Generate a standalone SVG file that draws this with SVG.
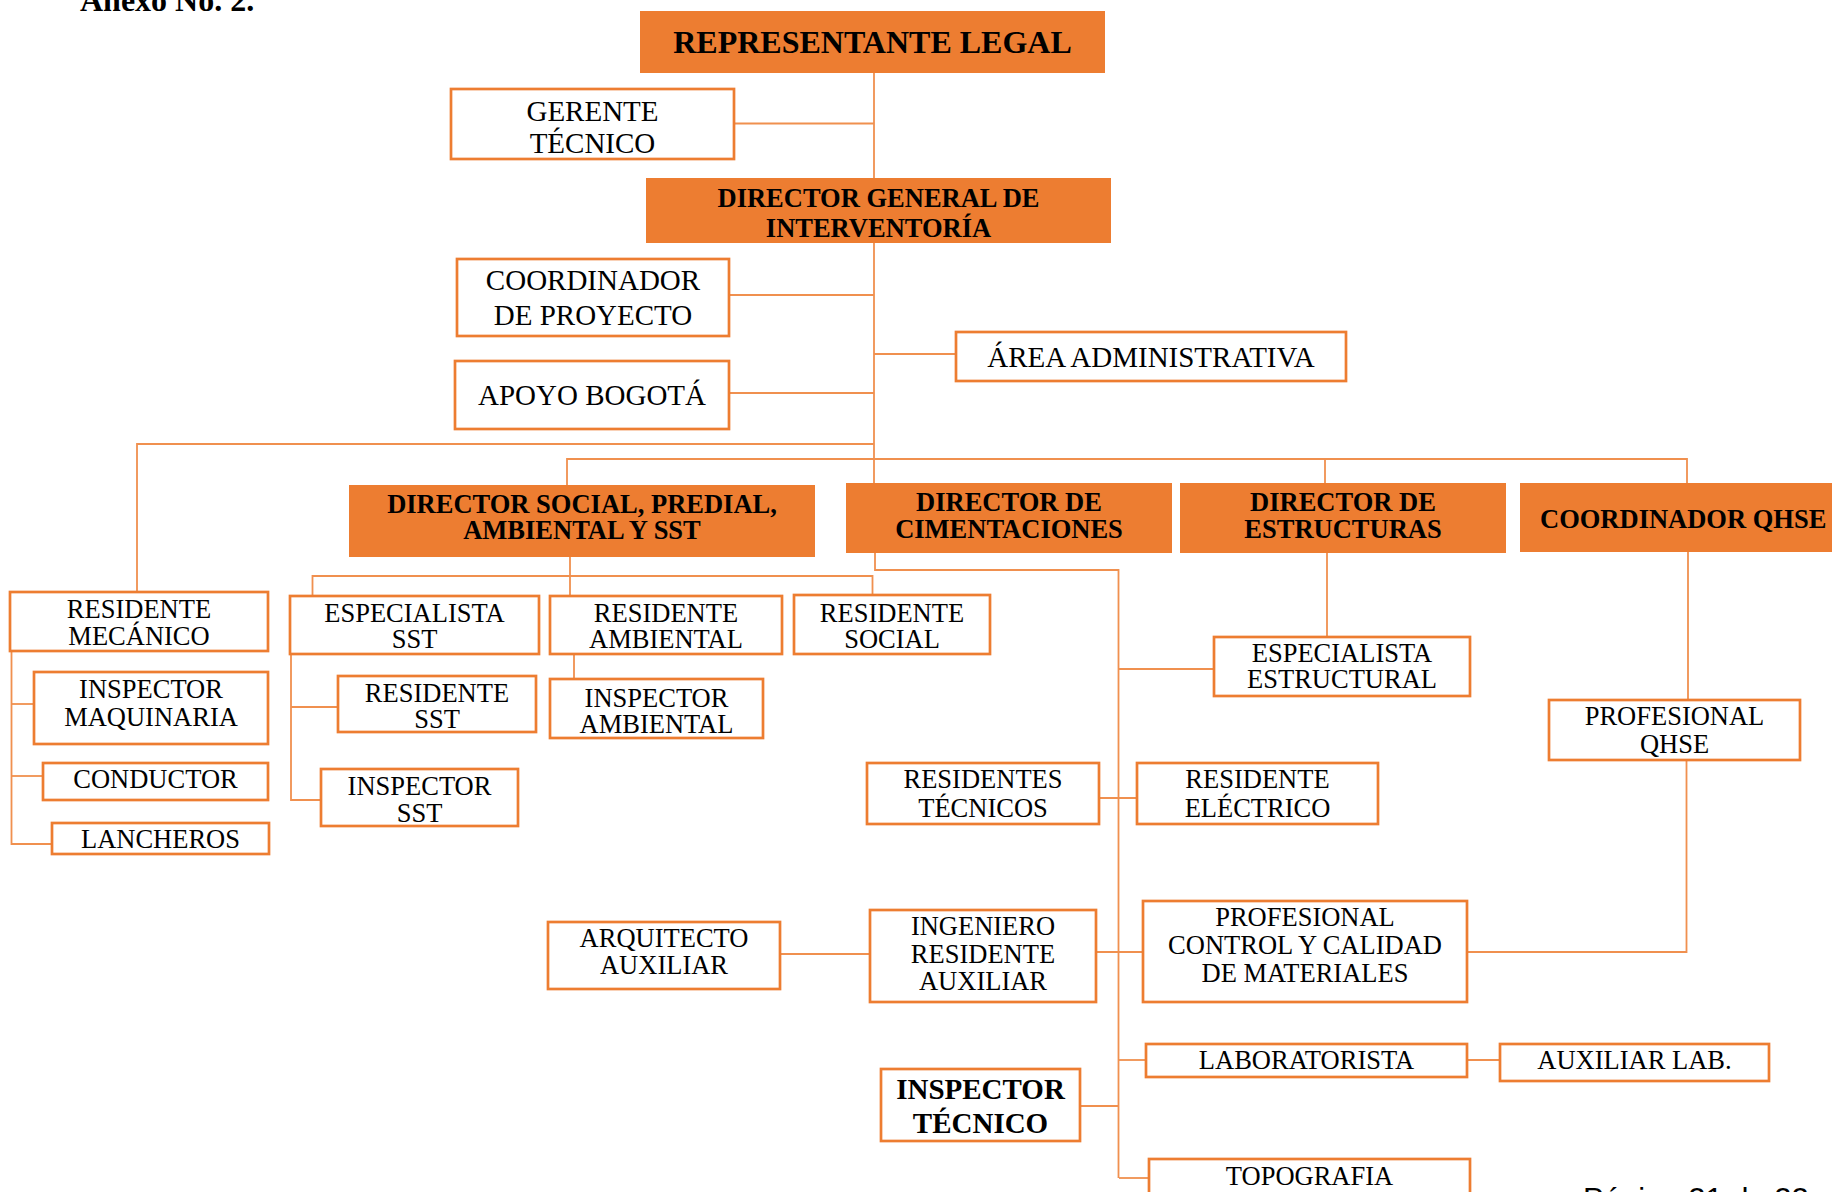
<svg xmlns="http://www.w3.org/2000/svg" width="1832" height="1192" viewBox="0 0 1832 1192">
<style>
.bg{fill:#ffffff}
.f{fill:#ED7D31;stroke:none}
.o{fill:#ffffff;stroke:#ED7D31;stroke-width:2.7}
.c{fill:none;stroke:#F0904F;stroke-width:1.8}
text{font-family:"Liberation Serif","Times New Roman",serif;fill:#000;text-anchor:middle}
.b{font-weight:bold}
.t32{font-size:32px}
.t29{font-size:29px}
.t26{font-size:26.5px}
.pg{font-family:"Liberation Sans",Arial,sans-serif;font-size:31px;text-anchor:start}
</style>
<rect class="bg" x="0" y="0" width="1832" height="1192"/>
<text class="b t32" x="80" y="11" style="text-anchor:start">Anexo No. 2.</text>
<text class="pg" x="1583" y="1210">Página 21 de 22</text>

<g id="connectors">
<path class="c" d="M874 73V483"/>
<path class="c" d="M734 123.5H874"/>
<path class="c" d="M729 295H874"/>
<path class="c" d="M874 354H956"/>
<path class="c" d="M729 393H874"/>
<path class="c" d="M137 592V444H874"/>
<path class="c" d="M567 485V459H1687V483"/>
<path class="c" d="M1325 459V483"/>
<path class="c" d="M570 557V596"/>
<path class="c" d="M312.5 596V576H872.5V595"/>
<path class="c" d="M11.5 651V844H52"/>
<path class="c" d="M11.5 704H34"/>
<path class="c" d="M11.5 776H43"/>
<path class="c" d="M291 654V800H321"/>
<path class="c" d="M291 707H338"/>
<path class="c" d="M574 654V679"/>
<path class="c" d="M875 553V570H1118.5V1178"/>
<path class="c" d="M1118.5 669H1214"/>
<path class="c" d="M1327 553V637"/>
<path class="c" d="M1099 798H1137"/>
<path class="c" d="M1688 552V700"/>
<path class="c" d="M1686.5 760V952H1467"/>
<path class="c" d="M780 954H870"/>
<path class="c" d="M1096 952H1143"/>
<path class="c" d="M1119 1060H1146"/>
<path class="c" d="M1467 1060H1500"/>
<path class="c" d="M1080 1106H1119"/>
<path class="c" d="M1119 1178H1149"/>
</g>

<g id="representante-legal"><rect class="f" x="640" y="11" width="465" height="62"/><text class="b t32" x="872.5" y="53">REPRESENTANTE LEGAL</text></g>
<g id="gerente-tecnico"><rect class="o" x="451" y="89" width="283" height="70"/><text class="t29" x="592.5" y="121">GERENTE</text><text class="t29" x="592.5" y="153">TÉCNICO</text></g>
<g id="director-general"><rect class="f" x="646" y="178" width="465" height="65"/><text class="b t26" x="878.5" y="207">DIRECTOR GENERAL DE</text><text class="b t26" x="878.5" y="237">INTERVENTORÍA</text></g>
<g id="coordinador-proyecto"><rect class="o" x="457" y="259" width="272" height="77"/><text class="t29" x="593" y="290">COORDINADOR</text><text class="t29" x="593" y="325">DE PROYECTO</text></g>
<g id="area-administrativa"><rect class="o" x="956" y="332" width="390" height="49"/><text class="t29" x="1151" y="367">ÁREA ADMINISTRATIVA</text></g>
<g id="apoyo-bogota"><rect class="o" x="455" y="361" width="274" height="68"/><text class="t29" x="592" y="405">APOYO BOGOTÁ</text></g>

<g id="director-social"><rect class="f" x="349" y="485" width="466" height="72"/><text class="b t26" x="582" y="513">DIRECTOR SOCIAL, PREDIAL,</text><text class="b t26" x="582" y="539">AMBIENTAL Y SST</text></g>
<g id="director-cimentaciones"><rect class="f" x="846" y="483" width="326" height="70"/><text class="b t26" x="1009" y="511">DIRECTOR DE</text><text class="b t26" x="1009" y="538">CIMENTACIONES</text></g>
<g id="director-estructuras"><rect class="f" x="1180" y="483" width="326" height="70"/><text class="b t26" x="1343" y="511">DIRECTOR DE</text><text class="b t26" x="1343" y="538">ESTRUCTURAS</text></g>
<g id="coordinador-qhse"><rect class="f" x="1520" y="483" width="320" height="69"/><text class="b t26" x="1540" y="528" style="text-anchor:start">COORDINADOR QHSE</text></g>

<g id="residente-mecanico"><rect class="o" x="10" y="592" width="258" height="59"/><text class="t26" x="139" y="618">RESIDENTE</text><text class="t26" x="139" y="645">MECÁNICO</text></g>
<g id="inspector-maquinaria"><rect class="o" x="34" y="672" width="234" height="72"/><text class="t26" x="151" y="698">INSPECTOR</text><text class="t26" x="151" y="726">MAQUINARIA</text></g>
<g id="conductor"><rect class="o" x="43" y="763" width="225" height="37"/><text class="t26" x="155.5" y="788">CONDUCTOR</text></g>
<g id="lancheros"><rect class="o" x="52" y="823" width="217" height="31"/><text class="t26" x="160.5" y="848">LANCHEROS</text></g>
<g id="especialista-sst"><rect class="o" x="290" y="596" width="249" height="58"/><text class="t26" x="414.5" y="622">ESPECIALISTA</text><text class="t26" x="414.5" y="648">SST</text></g>
<g id="residente-ambiental"><rect class="o" x="550" y="596" width="232" height="58"/><text class="t26" x="666" y="622">RESIDENTE</text><text class="t26" x="666" y="648">AMBIENTAL</text></g>
<g id="residente-social"><rect class="o" x="794" y="595" width="196" height="59"/><text class="t26" x="892" y="622">RESIDENTE</text><text class="t26" x="892" y="648">SOCIAL</text></g>
<g id="residente-sst"><rect class="o" x="338" y="676" width="198" height="56"/><text class="t26" x="437" y="702">RESIDENTE</text><text class="t26" x="437" y="728">SST</text></g>
<g id="inspector-ambiental"><rect class="o" x="550" y="679" width="213" height="59"/><text class="t26" x="656.5" y="707">INSPECTOR</text><text class="t26" x="656.5" y="733">AMBIENTAL</text></g>
<g id="inspector-sst"><rect class="o" x="321" y="769" width="197" height="57"/><text class="t26" x="419.5" y="795">INSPECTOR</text><text class="t26" x="419.5" y="822">SST</text></g>
<g id="especialista-estructural"><rect class="o" x="1214" y="637" width="256" height="59"/><text class="t26" x="1342" y="662">ESPECIALISTA</text><text class="t26" x="1342" y="688">ESTRUCTURAL</text></g>
<g id="profesional-qhse"><rect class="o" x="1549" y="700" width="251" height="60"/><text class="t26" x="1674.5" y="725">PROFESIONAL</text><text class="t26" x="1674.5" y="753">QHSE</text></g>
<g id="residentes-tecnicos"><rect class="o" x="867" y="763" width="232" height="61"/><text class="t26" x="983" y="788">RESIDENTES</text><text class="t26" x="983" y="817">TÉCNICOS</text></g>
<g id="residente-electrico"><rect class="o" x="1137" y="763" width="241" height="61"/><text class="t26" x="1257.5" y="788">RESIDENTE</text><text class="t26" x="1257.5" y="817">ELÉCTRICO</text></g>
<g id="arquitecto-auxiliar"><rect class="o" x="548" y="922" width="232" height="67"/><text class="t26" x="664" y="947">ARQUITECTO</text><text class="t26" x="664" y="974">AUXILIAR</text></g>
<g id="ingeniero-residente-auxiliar"><rect class="o" x="870" y="910" width="226" height="92"/><text class="t26" x="983" y="935">INGENIERO</text><text class="t26" x="983" y="963">RESIDENTE</text><text class="t26" x="983" y="990">AUXILIAR</text></g>
<g id="profesional-control"><rect class="o" x="1143" y="901" width="324" height="101"/><text class="t26" x="1305" y="926">PROFESIONAL</text><text class="t26" x="1305" y="954">CONTROL Y CALIDAD</text><text class="t26" x="1305" y="982">DE MATERIALES</text></g>
<g id="laboratorista"><rect class="o" x="1146" y="1044" width="321" height="33"/><text class="t26" x="1306.5" y="1069">LABORATORISTA</text></g>
<g id="auxiliar-lab"><rect class="o" x="1500" y="1044" width="269" height="37"/><text class="t26" x="1634.5" y="1069">AUXILIAR LAB.</text></g>
<g id="inspector-tecnico"><rect class="o" x="881" y="1069" width="199" height="72"/><text class="b t29" x="980.5" y="1099">INSPECTOR</text><text class="b t29" x="980.5" y="1133">TÉCNICO</text></g>
<g id="topografia"><rect class="o" x="1149" y="1159" width="321" height="45"/><text class="t26" x="1309.5" y="1185">TOPOGRAFIA</text></g>
</svg>
